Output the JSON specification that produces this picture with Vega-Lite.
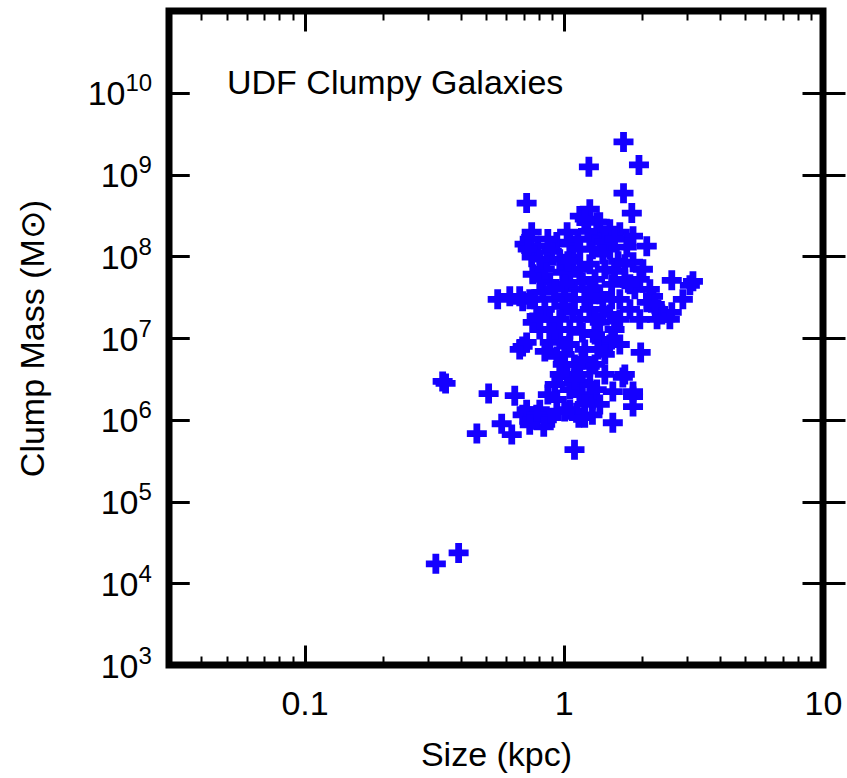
{
  "$schema": "https://vega.github.io/schema/vega-lite/v6.json",
  "width": 654,
  "height": 654,
  "autosize": "none",
  "padding": {"left": 169, "top": 11, "right": 24, "bottom": 113},
  "background": "white",
  "title": {"text": "UDF Clumpy Galaxies", "anchor": "start", "frame": "group", "orient": "top", "offset": 0, "dx": 58, "dy": 118, "baseline": "alphabetic", "font": "Liberation Sans", "fontSize": 34, "fontWeight": "normal", "color": "black"},
  "config": {
    "view": {"stroke": "black", "strokeWidth": 7},
    "axis": {"grid": false, "domain": false, "tickColor": "black", "labelColor": "black", "titleColor": "black", "labelFont": "Liberation Sans", "titleFont": "Liberation Sans", "labelFontSize": 34, "titleFontSize": 34, "titleFontWeight": "normal", "labelFlush": false, "labelOverlap": false}
  },
  "data": {"values": [
    {"size":0.321,"mass":17300},{"size":0.393,"mass":23500},{"size":0.341,"mass":2940000},{"size":0.350,"mass":2780000},
    {"size":0.513,"mass":2090000},{"size":0.647,"mass":1970000},{"size":0.462,"mass":678000},{"size":0.576,"mass":893000},
    {"size":0.630,"mass":659000},{"size":1.10,"mass":431000},{"size":1.546,"mass":919000},{"size":1.85,"mass":1920000},
    {"size":1.85,"mass":1450000},{"size":1.72,"mass":3580000},{"size":1.98,"mass":6660000},{"size":1.70,"mass":2.50e9},
    {"size":1.25,"mass":1.24e9},{"size":1.95,"mass":1.31e9},{"size":1.70,"mass":5.91e8},{"size":1.83,"mass":3.37e8},
    {"size":0.719,"mass":4.47e8},{"size":0.556,"mass":2.97e7},{"size":2.61,"mass":5.07e7},{"size":3.15,"mass":4.93e7},
    {"size":3.065,"mass":4.41e7},{"size":2.88,"mass":2.97e7},{"size":2.61,"mass":2.06e7},{"size":2.39,"mass":1.94e7},
    {"size":2.31,"mass":2.24e7},{"size":2.09,"mass":2.73e7},{"size":2.21,"mass":3.23e7},{"size":2.148,"mass":3.94e7},
    {"size":2.09,"mass":1.33e8},{"size":2.02,"mass":6.93e7},{"size":0.694,"mass":1.15e6},{"size":0.719,"mass":1.33e6},
    {"size":0.759,"mass":1.0e6},{"size":0.808,"mass":1.33e6},{"size":0.860,"mass":1.0e6},{"size":0.786,"mass":1.15e6},
    {"size":0.899,"mass":1.06e6},{"size":0.837,"mass":8.21e5},{"size":0.739,"mass":8.68e5},{"size":0.940,"mass":1.77e6},
    {"size":1.055,"mass":1.33e6},{"size":1.12,"mass":1.22e6},{"size":1.18,"mass":2.86e6},{"size":1.29,"mass":1.77e6},
    {"size":1.26,"mass":4.49e6},{"size":1.03,"mass":3.38e6},{"size":0.940,"mass":5.95e6},{"size":0.883,"mass":8.82e6},
    {"size":0.694,"mass":7.88e6},{"size":0.676,"mass":7.25e6},{"size":0.719,"mass":8.82e6},{"size":1.377,"mass":9.6e6},
    {"size":1.505,"mass":8.33e6},{"size":1.44,"mass":6.29e6},{"size":1.32,"mass":4.75e6},{"size":1.44,"mass":3.58e6},
    {"size":1.34,"mass":2.34e6},{"size":1.377,"mass":1.54e6},{"size":1.29,"mass":1.15e6},{"size":1.69,"mass":3.29e6},
    {"size":1.546,"mass":2.21e6},{"size":1.85,"mass":2.21e6},{"size":1.153,"mass":2.03e6},{"size":1.205,"mass":1.54e6},
    {"size":1.143,"mass":1.06e6},{"size":1.008,"mass":1.26e6},{"size":1.205,"mass":1.06e6},{"size":0.752,"mass":1.97e8},
    {"size":0.706,"mass":1.41e8},{"size":0.752,"mass":9.74e7},{"size":0.794,"mass":1.33e8},{"size":0.739,"mass":1.62e8},
    {"size":0.726,"mass":1.22e8},{"size":0.759,"mass":6.02e7},{"size":0.676,"mass":3.23e7},{"size":0.694,"mass":2.81e7},
    {"size":0.940,"mass":1.49e8},{"size":0.899,"mass":1.15e8},{"size":1.03,"mass":1.97e8},{"size":1.153,"mass":3.10e8},
    {"size":1.26,"mass":3.77e8},{"size":1.34,"mass":2.61e8},{"size":1.377,"mass":1.76e8},{"size":1.29,"mass":1.22e8},
    {"size":1.083,"mass":9.74e7},{"size":0.991,"mass":6.37e7},{"size":0.883,"mass":4.80e7},{"size":0.830,"mass":3.62e7},
    {"size":1.26,"mass":1.62e8},{"size":1.18,"mass":4.80e7},{"size":1.645,"mass":1.97e8},{"size":1.85,"mass":1.76e8},
    {"size":1.75,"mass":1.29e8},{"size":1.85,"mass":8.45e7},{"size":1.377,"mass":2.61e8},{"size":1.205,"mass":2.84e8},
    {"size":1.505,"mass":2.14e8},{"size":0.860,"mass":8.45e7},{"size":0.965,"mass":9.2e7},{"size":1.055,"mass":1.41e8},
    {"size":1.153,"mass":1.22e8},{"size":1.505,"mass":1.22e8},{"size":1.62,"mass":8.69e7},{"size":1.44,"mass":6.93e7},
    {"size":1.32,"mass":5.22e7},{"size":1.10,"mass":3.94e7},{"size":1.008,"mass":3.23e7},{"size":0.923,"mass":2.97e7},
    {"size":0.845,"mass":2.24e7},{"size":0.786,"mass":1.84e7},{"size":0.759,"mass":1.55e7},{"size":0.883,"mass":1.69e7},
    {"size":0.991,"mass":2.44e7},{"size":1.083,"mass":2.06e7},{"size":1.26,"mass":2.24e7},{"size":1.18,"mass":1.17e7},
    {"size":1.055,"mass":1.27e7},{"size":0.965,"mass":9.6e6},{"size":0.923,"mass":1.27e7},{"size":1.205,"mass":2.97e7},
    {"size":1.377,"mass":3.42e7},{"size":1.53,"mass":4.53e7},{"size":1.72,"mass":5.22e7},{"size":1.88,"mass":3.94e7},
    {"size":1.645,"mass":2.97e7},{"size":1.80,"mass":2.24e7},{"size":1.505,"mass":1.94e7},{"size":1.377,"mass":1.55e7},
    {"size":1.57,"mass":1.27e7},{"size":1.645,"mass":8.33e6},{"size":1.965,"mass":1.69e7},{"size":2.29,"mass":1.69e7},
    {"size":2.566,"mass":1.69e7},{"size":1.153,"mass":6.93e7},{"size":1.26,"mass":7.99e7},{"size":1.055,"mass":6.02e7},
    {"size":0.808,"mass":5.22e7},{"size":0.868,"mass":1.62e8},{"size":1.44,"mass":1.49e8},{"size":1.57,"mass":1.62e8},
    {"size":1.008,"mass":4.53e7},{"size":1.10,"mass":2.97e7},{"size":1.32,"mass":3.42e7},{"size":1.965,"mass":5.22e7},
    {"size":0.965,"mass":1.69e7},{"size":0.808,"mass":1.27e7},{"size":1.008,"mass":6.29e6},{"size":1.10,"mass":4.75e6},
    {"size":1.205,"mass":7.25e6},{"size":1.32,"mass":1.10e7},{"size":0.739,"mass":2.97e7},{"size":0.619,"mass":3.23e7},
    {"size":0.845,"mass":6.85e6},{"size":1.153,"mass":3.58e6},{"size":1.26,"mass":2.70e6},{"size":0.991,"mass":4.75e6},
    {"size":1.055,"mass":2.34e6},{"size":0.923,"mass":2.70e6},{"size":1.645,"mass":1.69e7},{"size":1.53,"mass":2.97e7},
    {"size":1.414,"mass":2.24e7},
    {"size":0.845,"mass":6.93e7},{"size":0.923,"mass":3.94e7},{"size":1.036,"mass":8.69e7},{"size":1.133,"mass":1.62e8},
    {"size":1.238,"mass":2.02e8},{"size":1.414,"mass":1.06e8},{"size":1.57,"mass":6.55e7},{"size":1.72,"mass":7.99e7},
    {"size":1.26,"mass":3.94e7},{"size":1.153,"mass":1.69e7},{"size":1.32,"mass":1.69e7},{"size":1.53,"mass":9.6e6},
    {"size":1.055,"mass":8.33e6},{"size":1.174,"mass":5.47e6},{"size":1.10,"mass":3.11e6},{"size":0.965,"mass":3.58e6},
    {"size":1.353,"mass":7.25e6},{"size":0.868,"mass":2.03e6},{"size":1.80,"mass":4.53e7},{"size":2.245,"mass":2.58e7},
    {"size":0.808,"mass":9.2e7},{"size":0.772,"mass":2.97e7},{"size":0.808,"mass":1.69e7}
  ]},
  "resolve": {"axis": {"x": "independent", "y": "independent"}},
  "layer": [
    {
      "mark": {"type": "point", "shape": "M-1,-0.34L-0.34,-0.34L-0.34,-1L0.34,-1L0.34,-0.34L1,-0.34L1,0.34L0.34,0.34L0.34,1L-0.34,1L-0.34,0.34L-1,0.34Z", "filled": true, "size": 400, "color": "#1500ff", "opacity": 1},
      "encoding": {
        "x": {"field": "size", "type": "quantitative", "scale": {"type": "log", "domain": [0.03, 10], "nice": false},
              "axis": {"orient": "bottom", "values": [0.1, 1, 10], "tickSize": -20, "tickWidth": 3, "labelPadding": 42, "labelExpr": "format(datum.value, '~g')", "title": "Size (kpc)", "titleY": 100, "titleBaseline": "alphabetic"}},
        "y": {"field": "mass", "type": "quantitative", "scale": {"type": "log", "domain": [1000, 1e11], "nice": false},
              "axis": {"orient": "left", "values": [1e3, 1e4, 1e5, 1e6, 1e7, 1e8, 1e9, 1e10], "tickSize": -20, "tickWidth": 3,
                       "labelPadding": {"condition": {"test": "datum.value >= 1e10", "value": 64}, "value": 51},
                       "labelAlign": "right", "labelBaseline": "middle", "labelOffset": 2,
                       "labelExpr": "'10'", "title": "Clump Mass (M⊙)", "titleX": -126, "titleY": 327, "titleBaseline": "alphabetic"}}
      }
    },
    {
      "mark": {"type": "point", "opacity": 0},
      "encoding": {
        "x": {"field": "size", "type": "quantitative", "scale": {"type": "log", "domain": [0.03, 10], "nice": false},
              "axis": {"orient": "bottom", "values": [0.04, 0.05, 0.06, 0.07, 0.08, 0.09, 0.2, 0.3, 0.4, 0.5, 0.6, 0.7, 0.8, 0.9, 2, 3, 4, 5, 6, 7, 8, 9], "tickSize": -9, "tickWidth": 2, "labels": false, "title": null}},
        "y": {"field": "mass", "type": "quantitative", "scale": {"type": "log", "domain": [1000, 1e11], "nice": false},
              "axis": {"orient": "left", "values": [1e3, 1e4, 1e5, 1e6, 1e7, 1e8, 1e9, 1e10], "tickSize": -20, "tickWidth": 3,
                       "labelPadding": {"condition": {"test": "datum.value >= 1e10", "value": 64}, "value": 51},
                       "labelAlign": "left", "labelBaseline": "alphabetic", "labelOffset": -2, "labelFontSize": 24,
                       "labelExpr": "format(round(log(datum.value) / LN10), 'd')", "title": null}}
      }
    },
    {
      "mark": {"type": "point", "opacity": 0},
      "encoding": {
        "x": {"field": "size", "type": "quantitative", "scale": {"type": "log", "domain": [0.03, 10], "nice": false},
              "axis": {"orient": "top", "values": [0.1, 1, 10], "tickSize": -20, "tickWidth": 3, "labels": false, "title": null}},
        "y": {"field": "mass", "type": "quantitative", "scale": {"type": "log", "domain": [1000, 1e11], "nice": false},
              "axis": {"orient": "right", "values": [1e4, 1e5, 1e6, 1e7, 1e8, 1e9, 1e10], "tickSize": -21, "tickWidth": 3, "labels": false, "title": null}}
      }
    },
    {
      "mark": {"type": "point", "opacity": 0},
      "encoding": {
        "x": {"field": "size", "type": "quantitative", "scale": {"type": "log", "domain": [0.03, 10], "nice": false},
              "axis": {"orient": "top", "values": [0.04, 0.05, 0.06, 0.07, 0.08, 0.09, 0.2, 0.3, 0.4, 0.5, 0.6, 0.7, 0.8, 0.9, 2, 3, 4, 5, 6, 7, 8, 9], "tickSize": -9, "tickWidth": 2, "labels": false, "title": null}},
        "y": {"field": "mass", "type": "quantitative", "scale": {"type": "log", "domain": [1000, 1e11], "nice": false},
              "axis": {"orient": "right", "values": [1e4, 1e5, 1e6, 1e7, 1e8, 1e9, 1e10], "tickSize": 22, "tickWidth": 3, "labels": false, "title": null}}
      }
    }
  ]
}
